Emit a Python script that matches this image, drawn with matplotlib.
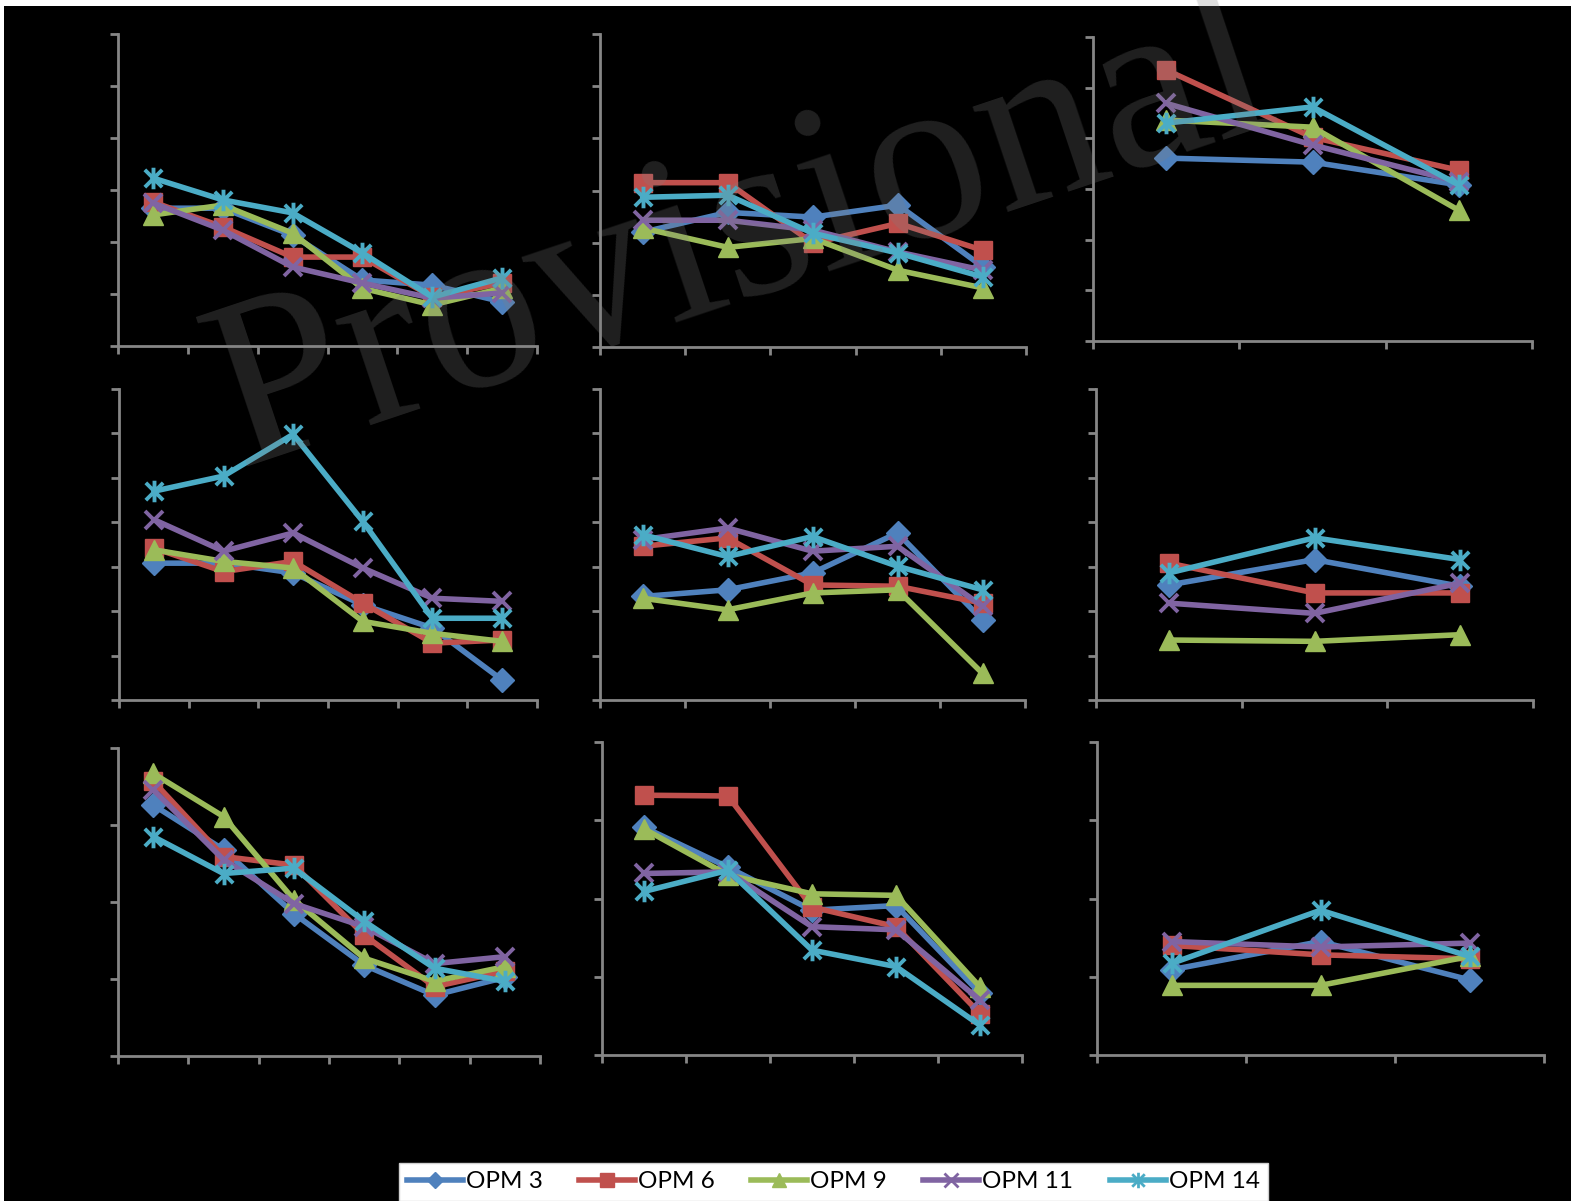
import matplotlib
matplotlib.use('Agg')
import matplotlib.pyplot as plt
from matplotlib.lines import Line2D
from matplotlib.path import Path
from matplotlib.patches import Rectangle
from matplotlib import font_manager as fm
from matplotlib.font_manager import FontProperties

W, H = 1571, 1201

series = ['OPM 3', 'OPM 6', 'OPM 9', 'OPM 11', 'OPM 14']
colors = ['#4F81BD', '#C0504D', '#9BBB59', '#8064A2', '#4BACC6']

# ---- data (values in axis tick units) ----
# panel 1 (6 categories)
p1_opm3 = [2.65, 2.65, 2.13, 1.27, 1.17, 0.85]
p1_opm6 = [2.77, 2.29, 1.71, 1.71, 0.94, 1.21]
p1_opm9 = [2.52, 2.71, 2.17, 1.11, 0.79, 1.11]
p1_opm11 = [2.75, 2.23, 1.52, 1.21, 0.92, 1.02]
p1_opm14 = [3.23, 2.81, 2.56, 1.79, 0.94, 1.31]
# panel 2 (5 categories)
p2_opm3 = [2.20, 2.58, 2.49, 2.72, 1.53]
p2_opm6 = [3.15, 3.15, 1.99, 2.37, 1.85]
p2_opm9 = [2.28, 1.91, 2.08, 1.47, 1.13]
p2_opm11 = [2.43, 2.43, 2.24, 1.82, 1.47]
p2_opm14 = [2.87, 2.91, 2.18, 1.80, 1.34]
# panel 3 (3 categories)
p3_opm3 = [3.61, 3.53, 3.08]
p3_opm6 = [5.35, 4.02, 3.37]
p3_opm9 = [4.36, 4.22, 2.58]
p3_opm11 = [4.69, 3.87, 3.14]
p3_opm14 = [4.30, 4.62, 3.08]
# panel 4 (6 categories)
p4_opm3 = [3.08, 3.08, 2.86, 2.14, 1.62, 0.45]
p4_opm6 = [3.42, 2.89, 3.12, 2.18, 1.28, 1.35]
p4_opm9 = [3.38, 3.12, 2.97, 1.77, 1.50, 1.32]
p4_opm11 = [4.06, 3.35, 3.76, 2.97, 2.29, 2.22]
p4_opm14 = [4.70, 5.04, 5.98, 4.02, 1.84, 1.84]
# panel 5 (5 categories)
p5_opm3 = [2.33, 2.48, 2.86, 3.76, 1.80]
p5_opm6 = [3.46, 3.65, 2.59, 2.56, 2.18]
p5_opm9 = [2.29, 2.03, 2.41, 2.48, 0.60]
p5_opm11 = [3.61, 3.87, 3.35, 3.46, 2.11]
p5_opm14 = [3.72, 3.23, 3.68, 3.01, 2.48]
# panel 6 (3 categories)
p6_opm3 = [2.59, 3.16, 2.56]
p6_opm6 = [3.08, 2.41, 2.41]
p6_opm9 = [1.35, 1.32, 1.47]
p6_opm11 = [2.18, 1.95, 2.63]
p6_opm14 = [2.86, 3.65, 3.16]
# panel 7 (6 categories)
p7_opm3 = [3.26, 2.68, 1.85, 1.18, 0.79, 1.02]
p7_opm6 = [3.57, 2.59, 2.48, 1.57, 0.90, 1.10]
p7_opm9 = [3.67, 3.11, 2.03, 1.27, 0.97, 1.16]
p7_opm11 = [3.46, 2.55, 1.98, 1.68, 1.20, 1.29]
p7_opm14 = [2.85, 2.37, 2.44, 1.75, 1.14, 0.97]
# panel 8 (5 categories)
p8_opm3 = [2.91, 2.40, 1.85, 1.91, 0.79]
p8_opm6 = [3.32, 3.31, 1.89, 1.64, 0.53]
p8_opm9 = [2.89, 2.30, 2.06, 2.04, 0.87]
p8_opm11 = [2.32, 2.34, 1.64, 1.60, 0.70]
p8_opm14 = [2.09, 2.36, 1.34, 1.13, 0.38]
# panel 9 (3 categories)
p9_opm3 = [1.09, 1.45, 0.96]
p9_opm6 = [1.40, 1.28, 1.23]
p9_opm9 = [0.89, 0.89, 1.26]
p9_opm11 = [1.45, 1.38, 1.43]
p9_opm14 = [1.17, 1.85, 1.26]

# number of y intervals per panel
y_intervals = [6, 6, 6, 7, 7, 7, 4, 4, 4]

panels = [
    [p1_opm3, p1_opm6, p1_opm9, p1_opm11, p1_opm14],
    [p2_opm3, p2_opm6, p2_opm9, p2_opm11, p2_opm14],
    [p3_opm3, p3_opm6, p3_opm9, p3_opm11, p3_opm14],
    [p4_opm3, p4_opm6, p4_opm9, p4_opm11, p4_opm14],
    [p5_opm3, p5_opm6, p5_opm9, p5_opm11, p5_opm14],
    [p6_opm3, p6_opm6, p6_opm9, p6_opm11, p6_opm14],
    [p7_opm3, p7_opm6, p7_opm9, p7_opm11, p7_opm14],
    [p8_opm3, p8_opm6, p8_opm9, p8_opm11, p8_opm14],
    [p9_opm3, p9_opm6, p9_opm9, p9_opm11, p9_opm14],
]

# axes boxes in pixels: x0, x1, y_top, y_bottom
boxes = [
    (118, 537, 34, 346),
    (600, 1026, 34, 347),
    (1093, 1532, 37, 341),
    (119, 537, 389, 700),
    (600, 1025, 389, 700),
    (1096, 1533, 389, 700),
    (118, 540, 748, 1056),
    (602, 1022, 742, 1055),
    (1097, 1544, 742, 1055),
]

star = Path([(-0.5, -0.5), (0.5, 0.5), (-0.5, 0.5), (0.5, -0.5), (0, -0.62), (0, 0.62)],
            [Path.MOVETO, Path.LINETO, Path.MOVETO, Path.LINETO, Path.MOVETO, Path.LINETO])

styles = [
    dict(marker='D', ms=12, mew=1),
    dict(marker='s', ms=13.5, mew=1),
    dict(marker='^', ms=14.5, mew=1),
    dict(marker='x', ms=13.5, mew=2.8),
    dict(marker=star, ms=15.5, mew=2.8),
]
LW = 4.0

fig = plt.figure(figsize=(W / 100, H / 100), dpi=100, facecolor='black')
# white margins at top and left
fig.patches.append(Rectangle((0, 1 - 6 / H), 1, 6 / H, transform=fig.transFigure,
                             facecolor='white', edgecolor='none', zorder=0))
fig.patches.append(Rectangle((0, 0), 4 / W, 1, transform=fig.transFigure,
                             facecolor='white', edgecolor='none', zorder=0))

axis_col = '#868686'
for data, (x0, x1, yt, yb), nint in zip(panels, boxes, y_intervals):
    ax = fig.add_axes([x0 / W, 1 - yb / H, (x1 - x0) / W, (yb - yt) / H])
    ax.set_facecolor('none')
    ncat = len(data[0])
    xs = [i + 0.5 for i in range(ncat)]
    for vals, col, st in zip(data, colors, styles):
        hollow = st['marker'] == 'x' or st['marker'] is star
        ax.plot(xs, vals, color=col, lw=LW, marker=st['marker'], ms=st['ms'],
                mew=st['mew'], mec=col, mfc='none' if hollow else col,
                clip_on=False, solid_capstyle='round', solid_joinstyle='round')
    ax.set_xlim(0, ncat)
    ax.set_ylim(0, nint)
    ax.set_xticks(range(ncat + 1))
    ax.set_yticks(range(nint + 1))
    ax.set_xticklabels([])
    ax.set_yticklabels([])
    for s in ('top', 'right'):
        ax.spines[s].set_visible(False)
    for s in ('left', 'bottom'):
        ax.spines[s].set_color(axis_col)
        ax.spines[s].set_linewidth(2.0)
    ax.tick_params(direction='out', length=6, width=2.0, color=axis_col)

# watermark
fig.text(0.472, 0.803, 'Provisional', rotation=18.5, fontsize=174,
         family='Liberation Serif', color='0.5', alpha=0.25,
         ha='center', va='center', rotation_mode='anchor', zorder=20)

# legend font
leg_family = 'DejaVu Sans'
for fam in ['Liberation Sans Narrow', 'Lato']:
    try:
        fm.findfont(FontProperties(family=fam), fallback_to_default=False)
        leg_family = fam
        break
    except Exception:
        pass
leg_size = 19 if leg_family == 'Liberation Sans Narrow' else 17.5

handles = []
for col, st in zip(colors, styles):
    hollow = st['marker'] == 'x' or st['marker'] is star
    handles.append(Line2D([], [], color=col, lw=LW, marker=st['marker'], ms=st['ms'],
                          mew=2.0 if hollow else 1, mec=col,
                          mfc='none' if hollow else col))

leg = fig.legend(handles, series, loc='lower center', bbox_to_anchor=(0.5305, 0.0),
                 ncol=5, frameon=True, fancybox=False, borderaxespad=0,
                 prop=FontProperties(family=leg_family, size=leg_size),
                 handlelength=2.3, handletextpad=0.12, columnspacing=1.5,
                 borderpad=0.35, markerscale=0.72, framealpha=1)
leg.get_frame().set_facecolor('white')
leg.get_frame().set_edgecolor('#d0d0d0')
leg.get_frame().set_linewidth(1)
for t in leg.get_texts():
    t.set_color('black')

fig.savefig('out.png', dpi=100, facecolor='black')
